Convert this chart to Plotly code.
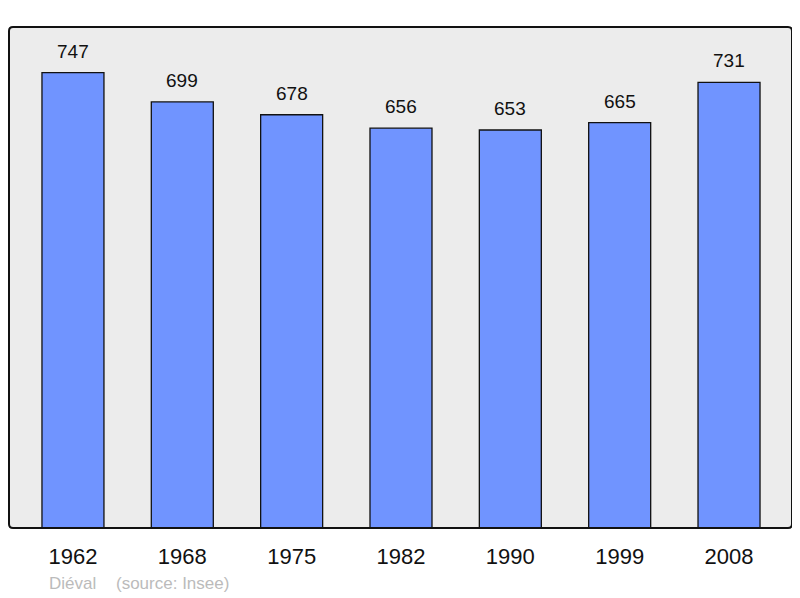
import plotly.graph_objects as go

years = ["1962", "1968", "1975", "1982", "1990", "1999", "2008"]
population = [747, 699, 678, 656, 653, 665, 731]
commune = "Diéval"
source = "(source: Insee)"

fig = go.Figure(go.Bar(
    x=years,
    y=population,
    width=0.567,
    marker=dict(color="#7094ff", line=dict(color="#111111", width=1.3)),
    hoverinfo="x+y",
))

# value labels above each bar (x given as category index)
for i, val in enumerate(population):
    fig.add_annotation(
        x=i, y=val, text=str(val), showarrow=False,
        yanchor="bottom", yshift=9,
        font=dict(family="Liberation Sans, Arial", size=19, color="#111111"),
    )

fig.add_annotation(
    xref="paper", yref="paper", x=0.0485, y=-0.11, xanchor="left", yanchor="middle",
    text=commune, showarrow=False,
    font=dict(family="Liberation Sans, Arial", size=17, color="#bbbbbb"),
)
fig.add_annotation(
    xref="paper", yref="paper", x=0.134, y=-0.11, xanchor="left", yanchor="middle",
    text=source, showarrow=False,
    font=dict(family="Liberation Sans, Arial", size=17, color="#bbbbbb"),
)

# frame round the plot area, with slightly rounded corners
rx, ry = 4 / 783, 4 / 501
frame = (
    f"M {rx},0 L {1 - rx},0 Q 1,0 1,{ry} L 1,{1 - ry} Q 1,1 {1 - rx},1 "
    f"L {rx},1 Q 0,1 0,{1 - ry} L 0,{ry} Q 0,0 {rx},0 Z"
)
fig.add_shape(
    type="path", xref="paper", yref="paper", path=frame,
    line=dict(color="#111111", width=2), layer="above",
)

# the page body adds an 8px margin, so the figure is sized 8px smaller
fig.update_layout(
    width=792,
    height=590,
    margin=dict(l=1, r=8, t=19, b=70, autoexpand=False),
    paper_bgcolor="white",
    plot_bgcolor="#ececec",
    showlegend=False,
    xaxis=dict(
        type="category",
        range=[-0.585, 6.576],
        showgrid=False,
        zeroline=False,
        ticks="outside",
        ticklen=9,
        tickcolor="rgba(0,0,0,0)",
        tickfont=dict(family="Liberation Sans, Arial", size=22, color="#111111"),
    ),
    yaxis=dict(
        range=[0, 822],
        showgrid=False,
        zeroline=False,
        showticklabels=False,
    ),
)

fig.write_html("out.html")
